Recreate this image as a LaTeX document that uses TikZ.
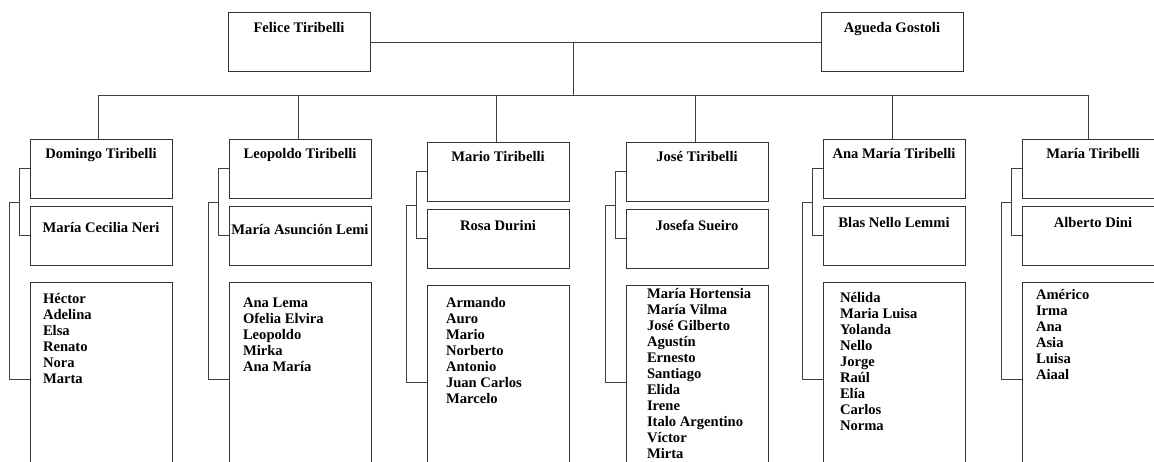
\documentclass[tikz,border=0pt]{standalone}
\usepackage{fontspec}
\setmainfont{Liberation Serif}
\usetikzlibrary{positioning}
\tikzstyle{pers}=[draw=black!80, rectangle, inner sep=0pt, minimum width=142pt, minimum height=59pt, text height=20pt, text depth=39pt, font=\fontsize{14.6}{16}\selectfont\bfseries]
\tikzstyle{wife}=[pers, text height=21pt, text depth=38pt]
\tikzstyle{kids}=[draw=black!80, rectangle, inner sep=0pt, minimum width=142pt, minimum height=200pt]
\tikzstyle{names}=[align=left, inner sep=0pt, font=\fontsize{14.6}{16}\selectfont\bfseries]
\tikzstyle{wire}=[draw=black!75, line width=0.8pt]

\begin{document}
\begin{tikzpicture}[x=1pt, y=1pt, node distance=8pt]
\useasboundingbox (0,0) rectangle (1154,462);
\clip (0,0) rectangle (1154,462);

% parents
\node[pers] (felice) at (299,420) {Felice Tiribelli};
\node[pers] (agueda) at (892,420) {Agueda Gostoli};
\coordinate (wed) at (573,420);
\coordinate (bus) at (573,367);

% Domingo
\node[pers] (domingo) at (101,293.5) {Domingo Tiribelli};
\node[wife, below=of domingo, text height=26pt, text depth=33pt] (cecilia) {María Cecilia Neri};
\node[kids, below=16pt of cecilia] (kdomingo) {};
\node[names, below right=12pt and 13pt of kdomingo.north west] (ldomingo) {Héctor\\Adelina\\Elsa\\Renato\\Nora\\Marta};

% Leopoldo
\node[pers] (leopoldo) at (300,293.5) {Leopoldo Tiribelli};
\node[wife, below=of leopoldo, text height=28pt, text depth=31pt] (asuncion) {María Asunción Lemi};
\node[kids, below=16pt of asuncion] (kleopoldo) {};
\node[names, below right=16pt and 14pt of kleopoldo.north west] (lleopoldo) {Ana Lema\\Ofelia Elvira\\Leopoldo\\Mirka\\Ana María};

% Mario
\node[pers] (mario) at (498,290.5) {Mario Tiribelli};
\node[wife, below=of mario] (rosa) {Rosa Durini};
\node[kids, below=16pt of rosa] (kmario) {};
\node[names, below right=13pt and 19pt of kmario.north west] (lmario) {Armando\\Auro\\Mario\\Norberto\\Antonio\\Juan Carlos\\Marcelo};

% Jose
\node[pers] (jose) at (697,290.5) {José Tiribelli};
\node[wife, below=of jose] (josefa) {Josefa Sueiro};
\node[kids, below=16pt of josefa] (kjose) {};
\node[names, below right=4pt and 21pt of kjose.north west] (ljose) {María Hortensia\\María Vilma\\José Gilberto\\Agustín\\Ernesto\\Santiago\\Elida\\Irene\\Italo Argentino\\Víctor\\Mirta};

% Ana Maria
\node[pers] (anamaria) at (894,293.5) {Ana María Tiribelli};
\node[wife, below=of anamaria] (blas) {Blas Nello Lemmi};
\node[kids, below=16pt of blas] (kanamaria) {};
\node[names, below right=11pt and 17pt of kanamaria.north west] (lanamaria) {Nélida\\Maria Luisa\\Yolanda\\Nello\\Jorge\\Raúl\\Elía\\Carlos\\Norma};

% Maria
\node[pers] (maria) at (1093,293.5) {María Tiribelli};
\node[wife, below=of maria] (alberto) {Alberto Dini};
\node[kids, below=16pt of alberto] (kmaria) {};
\node[names, below right=8pt and 14pt of kmaria.north west] (lmaria) {Américo\\Irma\\Ana\\Asia\\Luisa\\Aiaal};

% lines
\draw[wire] (felice) -- (agueda);
\draw[wire] (wed) -- (bus);
\draw[wire] ([xshift=-3pt]domingo.north) |- (bus) -| ([xshift=-5pt]maria.north);
\foreach \p in {leopoldo,mario,jose,anamaria}
  \draw[wire] ([xshift=-2pt]\p.north) |- (bus);

\foreach \h/\w/\k in {domingo/cecilia/kdomingo, leopoldo/asuncion/kleopoldo, mario/rosa/kmario, jose/josefa/kjose, anamaria/blas/kanamaria, maria/alberto/kmaria}{
  \draw[wire] (\h.west) -- ++(-10,0) |- (\w.west);
  \draw[wire] ([xshift=-10pt,yshift=4pt]\w.north west) -- ++(-10,0) |- ([yshift=-98pt]\k.north west);
}
\end{tikzpicture}
\end{document}
